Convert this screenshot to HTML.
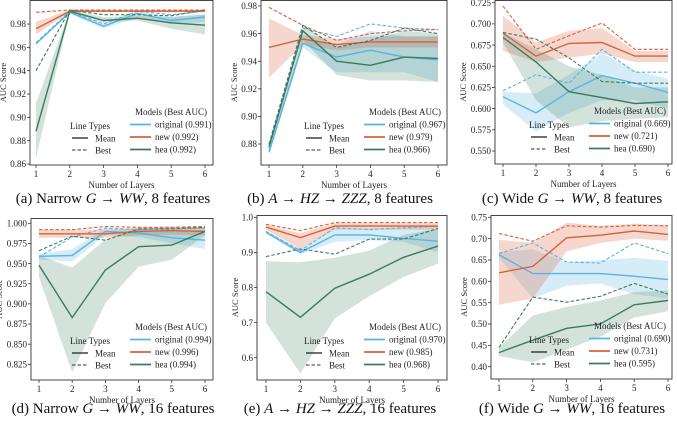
<!DOCTYPE html>
<html><head><meta charset="utf-8">
<style>
body{margin:0;background:#fff;}
svg{display:block;}
svg text{font-family:"Liberation Serif","DejaVu Serif",serif;}
</style></head>
<body>
<svg id="fig" width="677" height="421" viewBox="0 0 677 421" xmlns="http://www.w3.org/2000/svg" font-family="Liberation Serif, serif">
</svg>
<script>
const layers=[1,2,3,4,5,6];
const modelNames=["original","new","hea"];
const modelColors=["#5ab4e0","#d9603b","#3b7a5e"];
// Panel a
const aBest=["0.991","0.992","0.992"];
const aMean=[[0.963,0.990,0.978,0.989,0.983,0.986],[0.976,0.991,0.991,0.991,0.991,0.991],[0.888,0.991,0.983,0.985,0.981,0.979]];
const aTop=[[0.964,0.991,0.980,0.991,0.988,0.991],[0.990,0.992,0.992,0.992,0.992,0.992],[0.940,0.992,0.988,0.988,0.987,0.992]];
const aLo=[[0.962,0.989,0.976,0.986,0.980,0.982],[0.971,0.990,0.990,0.990,0.990,0.990],[0.865,0.990,0.981,0.983,0.976,0.971]];
const aHi=[[0.964,0.991,0.980,0.991,0.986,0.989],[0.982,0.992,0.992,0.992,0.992,0.992],[0.912,0.992,0.986,0.987,0.986,0.988]];
const aTicks=[0.86,0.88,0.90,0.92,0.94,0.96,0.98];
// Panel b
const bBest=["0.967","0.979","0.966"];
const bMean=[[0.874,0.953,0.943,0.948,0.943,0.941],[0.950,0.956,0.952,0.954,0.954,0.954],[0.878,0.962,0.940,0.937,0.943,0.942]];
const bTop=[[0.876,0.964,0.958,0.967,0.964,0.963],[0.979,0.966,0.955,0.960,0.962,0.963],[0.880,0.966,0.950,0.955,0.964,0.960]];
const bLo=[[0.872,0.950,0.932,0.932,0.932,0.925],[0.928,0.952,0.948,0.950,0.950,0.950],[0.876,0.955,0.930,0.926,0.926,0.925]];
const bHi=[[0.877,0.957,0.952,0.962,0.958,0.958],[0.971,0.959,0.956,0.958,0.958,0.958],[0.880,0.966,0.950,0.955,0.962,0.960]];
const bTicks=[0.88,0.90,0.92,0.94,0.96,0.98];
// Panel c
const cBest=["0.669","0.721","0.690"];
const cMean=[[0.614,0.595,0.620,0.639,0.630,0.619],[0.689,0.662,0.677,0.678,0.662,0.662],[0.684,0.655,0.620,0.613,0.606,0.608]];
const cTop=[[0.621,0.640,0.630,0.670,0.643,0.643],[0.721,0.670,0.686,0.701,0.670,0.670],[0.690,0.682,0.660,0.632,0.630,0.630]];
const cLo=[[0.605,0.573,0.595,0.610,0.610,0.600],[0.668,0.655,0.660,0.665,0.655,0.655],[0.678,0.610,0.578,0.585,0.588,0.590]];
const cHi=[[0.620,0.618,0.640,0.665,0.645,0.635],[0.710,0.678,0.692,0.695,0.668,0.668],[0.690,0.670,0.650,0.640,0.625,0.625]];
const cTicks=[0.550,0.575,0.600,0.625,0.650,0.675,0.700,0.725];
// Panel d
const dBest=["0.994","0.996","0.994"];
const dMean=[[0.959,0.960,0.990,0.988,0.982,0.979],[0.987,0.987,0.987,0.990,0.991,0.990],[0.948,0.883,0.942,0.971,0.973,0.990]];
const dTop=[[0.958,0.983,0.994,0.992,0.994,0.994],[0.992,0.992,0.996,0.995,0.995,0.996],[0.966,0.984,0.979,0.993,0.993,0.995]];
const dLo=[[0.955,0.953,0.985,0.983,0.975,0.968],[0.982,0.982,0.982,0.985,0.986,0.985],[0.933,0.815,0.901,0.946,0.955,0.985]];
const dHi=[[0.962,0.968,0.994,0.992,0.990,0.990],[0.992,0.992,0.992,0.995,0.996,0.995],[0.960,0.945,0.980,0.994,0.994,0.994]];
const dTicks=[0.825,0.850,0.875,0.900,0.925,0.950,0.975,1.000];
// Panel e
const eBest=["0.970","0.985","0.968"];
const eMean=[[0.957,0.900,0.950,0.950,0.940,0.932],[0.972,0.942,0.975,0.975,0.975,0.975],[0.788,0.715,0.798,0.838,0.886,0.918]];
const eTop=[[0.960,0.905,0.970,0.965,0.970,0.975],[0.980,0.962,0.985,0.985,0.985,0.985],[0.888,0.910,0.895,0.938,0.938,0.968]];
const eLo=[[0.955,0.895,0.930,0.935,0.930,0.900],[0.965,0.910,0.965,0.965,0.965,0.965],[0.700,0.555,0.712,0.775,0.830,0.868]];
const eHi=[[0.960,0.910,0.968,0.968,0.970,0.975],[0.978,0.955,0.983,0.983,0.983,0.983],[0.875,0.872,0.885,0.905,0.950,0.968]];
const eTicks=[0.6,0.7,0.8,0.9,1.0];
// Panel f
const fBest=["0.690","0.731","0.595"];
const fMean=[[0.662,0.618,0.618,0.618,0.612,0.604],[0.620,0.635,0.702,0.708,0.718,0.710],[0.433,0.462,0.490,0.500,0.545,0.555]];
const fTop=[[0.665,0.690,0.645,0.643,0.690,0.665],[0.712,0.694,0.730,0.727,0.731,0.730],[0.445,0.563,0.551,0.565,0.595,0.570]];
const fLo=[[0.655,0.560,0.590,0.595,0.570,0.560],[0.545,0.560,0.670,0.690,0.700,0.695],[0.425,0.410,0.440,0.470,0.515,0.530]];
const fHi=[[0.668,0.675,0.645,0.650,0.655,0.648],[0.697,0.690,0.737,0.730,0.735,0.732],[0.445,0.520,0.540,0.555,0.575,0.578]];
const fTicks=[0.40,0.45,0.50,0.55,0.60,0.65,0.70,0.75];

const NS="http://www.w3.org/2000/svg";
const svg=document.getElementById("fig");
function mk(tag,attrs,parent,txt){const e=document.createElementNS(NS,tag);for(const k in attrs)e.setAttribute(k,attrs[k]);if(tag==="text")e.setAttribute("font-family","Liberation Serif, serif");if(txt!==undefined)e.textContent=txt;(parent||svg).appendChild(e);return e;}

const panels=[
 {id:"a",L:30,R:213,T:0,B:165,x1:36,x6:205,v0:0.98,p0:24,v1:0.86,p1:164,dec:2,ticks:aTicks,mean:aMean,top:aTop,lo:aLo,hi:aHi,best:aBest,cap:["(a) Narrow ","G"," → ","WW",", 8 features"],cx:113,cy:203},
 {id:"b",L:261,R:447,T:0,B:165,x1:269,x6:438,v0:0.98,p0:6,v1:0.88,p1:144,dec:2,ticks:bTicks,mean:bMean,top:bTop,lo:bLo,hi:bHi,best:bBest,cap:["(b) ","A"," → ","HZ"," → ","ZZZ",", 8 features"],cx:340,cy:203},
 {id:"c",L:495,R:672,T:0,B:164,x1:503,x6:668,v0:0.725,p0:2.7,v1:0.55,p1:151,dec:3,ticks:cTicks,mean:cMean,top:cTop,lo:cLo,hi:cHi,best:cBest,cap:["(c) Wide ","G"," → ","WW",", 8 features"],cx:572,cy:203},
 {id:"d",L:31,R:213,T:218,B:380,x1:39,x6:205,v0:1.0,p0:223.3,v1:0.825,p1:364.3,dec:3,ticks:dTicks,mean:dMean,top:dTop,lo:dLo,hi:dHi,best:dBest,cap:["(d) Narrow ","G"," → ","WW",", 16 features"],cx:113,cy:413},
 {id:"e",L:257,R:447,T:215,B:380,x1:266,x6:438,v0:1.0,p0:217.3,v1:0.6,p1:357.7,dec:1,ticks:eTicks,mean:eMean,top:eTop,lo:eLo,hi:eHi,best:eBest,cap:["(e) ","A"," → ","HZ"," → ","ZZZ",", 16 features"],cx:340,cy:413},
 {id:"f",L:491,R:672,T:215,B:379,x1:499,x6:668,v0:0.75,p0:217.3,v1:0.40,p1:366.7,dec:2,ticks:fTicks,mean:fMean,top:fTop,lo:fLo,hi:fHi,best:fBest,cap:["(f) Wide ","G"," → ","WW",", 16 features"],cx:572,cy:413}
];

panels.forEach(P=>{
 const g=mk("g",{});
 
 
 const X=l=>P.x1+(l-1)*(P.x6-P.x1)/5;
 const Y=v=>P.p0+(v-P.v0)*(P.p1-P.p0)/(P.v1-P.v0);
 const clipId="clip"+P.id;
 const cp=mk("clipPath",{id:clipId},g);mk("rect",{x:P.L,y:P.T,width:P.R-P.L,height:P.B-P.T},cp);
 const plot=mk("g",{"clip-path":"url(#"+clipId+")"},g);
 for(let m=0;m<3;m++){
  let d=layers.map((l,i)=>(i?"L":"M")+X(l).toFixed(1)+","+Y(P.hi[m][i]).toFixed(1)).join("");
  for(let i=5;i>=0;i--)d+="L"+X(layers[i]).toFixed(1)+","+Y(P.lo[m][i]).toFixed(1);
  const b=mk("path",{d:d+"Z",fill:modelColors[m],"fill-opacity":m==2?0.22:0.25,stroke:"none"},plot);
  
  
 }
 for(let m=0;m<3;m++){
  const dm=layers.map((l,i)=>(i?"L":"M")+X(l).toFixed(1)+","+Y(P.mean[m][i]).toFixed(1)).join("");
  const ln=mk("path",{d:dm,fill:"none",stroke:modelColors[m],"stroke-width":1.4},plot);
  
  
  const db=layers.map((l,i)=>(i?"L":"M")+X(l).toFixed(1)+","+Y(P.top[m][i]).toFixed(1)).join("");
  const lb=mk("path",{d:db,fill:"none",stroke:modelColors[m],"stroke-width":1.1,"stroke-dasharray":"3.5,2"},plot);
  
  
 }
 const fr=mk("rect",{x:P.L,y:P.T+0.5,width:P.R-P.L,height:P.B-P.T-0.5,fill:"none",stroke:"#333","stroke-width":0.9},g);
 
 
 P.ticks.forEach(v=>{
  const y=Y(v);
  mk("line",{x1:P.L-3,x2:P.L,y1:y,y2:y,stroke:"#333","stroke-width":0.8},g);
  const t=mk("text",{x:P.L-4,y:y+3.2,"text-anchor":"end","font-size":9,fill:"#222"},g,v.toFixed(P.dec));
  
  
 });
 layers.forEach(l=>{
  const x=X(l);
  mk("line",{x1:x,x2:x,y1:P.B,y2:P.B+3,stroke:"#333","stroke-width":0.8},g);
  const t=mk("text",{x:x,y:P.B+12,"text-anchor":"middle","font-size":9,fill:"#222"},g,String(l));
  
  
 });
 const xt=mk("text",{x:(P.L+P.R)/2,y:P.B+23,"text-anchor":"middle","font-size":9,fill:"#222"},g,"Number of Layers");
 
 
 const yc=(P.T+P.B)/2, yx=P.L-(P.dec==3?29:P.dec==2?24:19);
 const yt=mk("text",{x:yx,y:yc,"text-anchor":"middle","font-size":8.5,fill:"#222",transform:"rotate(-90 "+yx+" "+yc+")"},g,"AUC Score");
 
 
 const lg=mk("g",{},g);
 
 
 const mx=P.R-78, my=P.B-50;
 mk("text",{x:mx,y:my,"font-size":9,fill:"#222"},lg,"Models (Best AUC)");
 for(let m=0;m<3;m++){
  const yy=my+12.5*(m+1);
  mk("line",{x1:mx-5,x2:mx+16,y1:yy-3,y2:yy-3,stroke:modelColors[m],"stroke-width":1.8},lg);
  const t=mk("text",{x:mx+20,y:yy,"font-size":9,fill:"#222"},lg,modelNames[m]+" ("+P.best[m]+")");
  
  
 }
 const lx=P.R-123, ly=P.B-36;
 mk("text",{x:lx,y:ly,"font-size":9,fill:"#222","text-anchor":"middle"},lg,"Line Types");
 mk("line",{x1:lx-18,x2:lx-2,y1:ly+9,y2:ly+9,stroke:"#333","stroke-width":1.4},lg);
 mk("text",{x:lx+5,y:ly+12.5,"font-size":9,fill:"#222"},lg,"Mean");
 mk("line",{x1:lx-18,x2:lx-2,y1:ly+21,y2:ly+21,stroke:"#333","stroke-width":1.1,"stroke-dasharray":"3.5,2"},lg);
 mk("text",{x:lx+5,y:ly+24.5,"font-size":9,fill:"#222"},lg,"Best");
 const c=mk("text",{x:P.cx,y:P.cy,"text-anchor":"middle","font-size":15,fill:"#111"},g);
 
 
 P.cap.forEach(s=>{const ts=mk("tspan",{},c,s);if(/^[A-Z]+$/.test(s))ts.setAttribute("font-style","italic");});
});
</script>
</body></html>
